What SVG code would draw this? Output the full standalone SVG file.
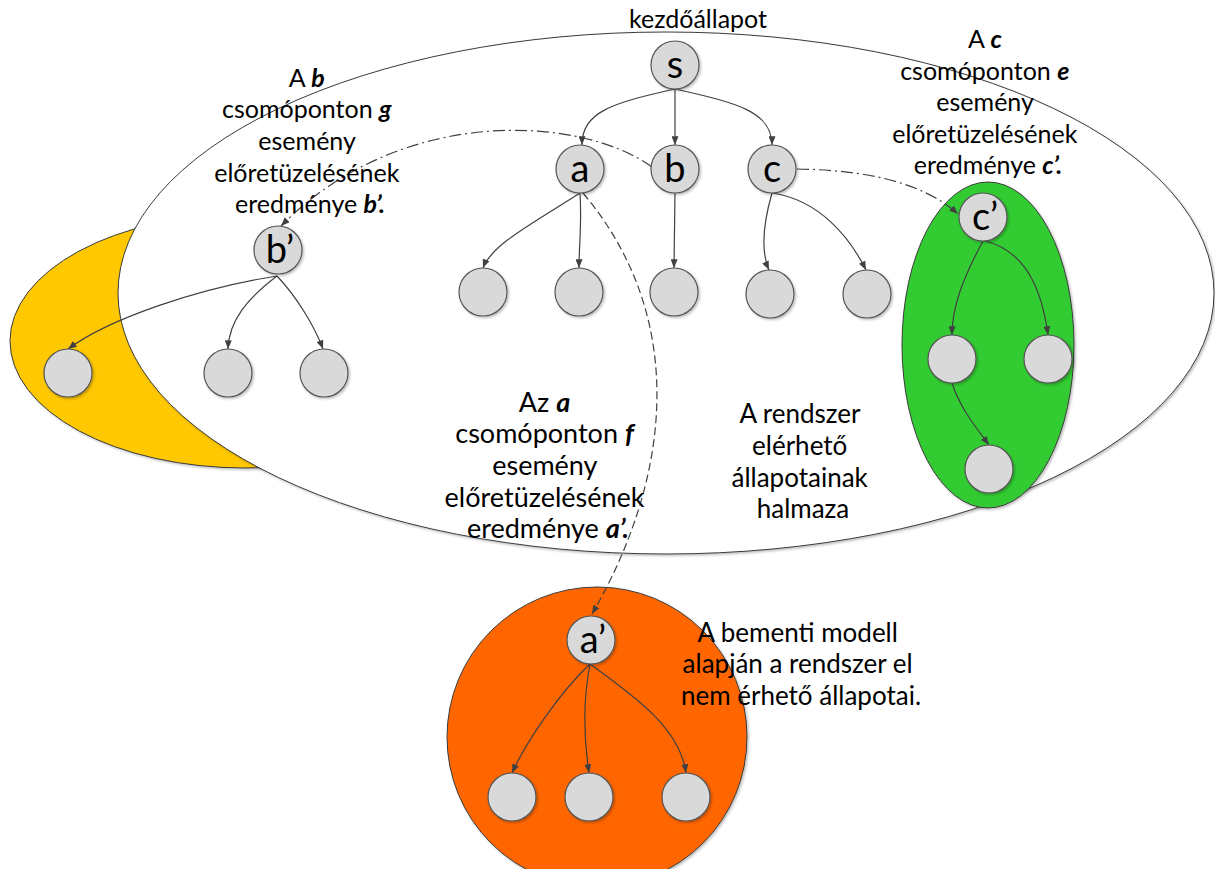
<svg xmlns="http://www.w3.org/2000/svg" width="1215" height="869" viewBox="0 0 1215 869">
  <defs>
    <filter id="shadow" x="-10%" y="-10%" width="130%" height="130%">
      <feDropShadow dx="1.5" dy="1.5" stdDeviation="0.8" flood-color="#000" flood-opacity="0.25"/>
    </filter>
    <marker id="arrow" viewBox="0 0 10 8" refX="10" refY="4" markerWidth="9" markerHeight="7" markerUnits="userSpaceOnUse" orient="auto">
      <path d="M0,0 L10,4 L0,8 Z" fill="#404040"/>
    </marker>
    <style>
      .region { stroke: #3a3a3a; stroke-width: 1; filter: url(#shadow); }
      .node circle { fill: #d9d9d9; stroke: #555; stroke-width: 1.2; filter: url(#shadow); }
      .node text { font-family: Lato, "Liberation Sans", sans-serif; font-size: 38px; fill: #000; text-anchor: middle; }
      .edge { fill: none; stroke: #404040; stroke-width: 1.2; marker-end: url(#arrow); }
      .dash { stroke-dasharray: 8 4; }
      .dashdot { stroke-dasharray: 12 4 2 4; }
      .label { font-family: Lato, "Liberation Sans", sans-serif; fill: #000; text-anchor: middle; }
      .bi { font-weight: bold; font-style: italic; }
    </style>
  </defs>

  <!-- regions -->
  <g id="regions">
    <ellipse id="unreachable-left" class="region" cx="245" cy="341" rx="235" ry="127" fill="#ffc800"/>
    <ellipse id="reachable-set" class="region" cx="666" cy="293" rx="548" ry="261" fill="#ffffff"/>
    <ellipse id="region-c" class="region" cx="988" cy="345" rx="86" ry="163" fill="#33cc33"/>
    <circle id="region-a" class="region" cx="597" cy="737" r="150" fill="#ff6600"/>
  </g>

  <!-- connectors -->
  <g id="connectors">
    <path class="edge" d="M675,89 C612,103 582,112 582,145"/>
    <path class="edge" d="M675,89 L675,145"/>
    <path class="edge" d="M675,89 C738,103 772,112 772,145"/>

    <path class="edge" d="M580,193 C535,222 492,244 483,268"/>
    <path class="edge" d="M580,193 C582,222 579,245 579,268"/>
    <path class="edge" d="M675,193 L674,268"/>
    <path class="edge" d="M772,193 C762,228 761,252 769,270"/>
    <path class="edge" d="M772,193 C820,200 850,238 866,270"/>

    <path class="edge" d="M277,276 C200,288 110,318 68,349"/>
    <path class="edge" d="M277,276 C248,298 229,320 228,349"/>
    <path class="edge" d="M277,276 C296,296 314,325 323,349"/>

    <path class="edge" d="M983,241 C962,280 952,308 952,335"/>
    <path class="edge" d="M985,241 C1030,252 1043,298 1048,335"/>
    <path class="edge" d="M952,383 C960,408 975,426 989,445"/>

    <path class="edge" d="M590,664 C560,692 526,742 512,773"/>
    <path class="edge" d="M590,664 C583,700 584,740 589,773"/>
    <path class="edge" d="M590,664 C640,700 680,730 686,773"/>

    <path class="edge dash" d="M583,193 C690,320 670,480 592,614"/>
    <path class="edge dashdot" d="M652,167 C580,115 400,105 281,226"/>
    <path class="edge dashdot" d="M797,169 C860,170 920,180 958,214"/>
  </g>

  <!-- nodes -->
  <g id="node-s" class="node"><circle cx="675" cy="65" r="24"/><text x="675" y="78">s</text></g>
  <g id="node-a" class="node"><circle cx="580" cy="169" r="24"/><text x="580" y="182">a</text></g>
  <g id="node-b" class="node"><circle cx="675" cy="169" r="24"/><text x="675" y="182">b</text></g>
  <g id="node-c" class="node"><circle cx="772" cy="169" r="24"/><text x="772" y="182">c</text></g>
  <g id="node-a1" class="node"><circle cx="483" cy="292" r="24"/></g>
  <g id="node-a2" class="node"><circle cx="579" cy="292" r="24"/></g>
  <g id="node-b1" class="node"><circle cx="674" cy="292" r="24"/></g>
  <g id="node-c1" class="node"><circle cx="770" cy="294" r="24"/></g>
  <g id="node-c2" class="node"><circle cx="867" cy="294" r="24"/></g>

  <g id="node-bp" class="node"><circle cx="278" cy="250" r="24"/><text x="280" y="263">b’</text></g>
  <g id="node-bp1" class="node"><circle cx="68" cy="373" r="24"/></g>
  <g id="node-bp2" class="node"><circle cx="228" cy="373" r="24"/></g>
  <g id="node-bp3" class="node"><circle cx="324" cy="373" r="24"/></g>

  <g id="node-cp" class="node"><circle cx="983" cy="217" r="24"/><text x="985" y="230">c’</text></g>
  <g id="node-cp1" class="node"><circle cx="952" cy="359" r="24"/></g>
  <g id="node-cp2" class="node"><circle cx="1048" cy="359" r="24"/></g>
  <g id="node-cp3" class="node"><circle cx="989" cy="469" r="24"/></g>

  <g id="node-ap" class="node"><circle cx="591" cy="640" r="24"/><text x="593" y="653">a’</text></g>
  <g id="node-ap1" class="node"><circle cx="512" cy="797" r="24"/></g>
  <g id="node-ap2" class="node"><circle cx="589" cy="797" r="24"/></g>
  <g id="node-ap3" class="node"><circle cx="686" cy="797" r="24"/></g>

  <!-- labels -->
  <g id="labels">
    <text class="label" x="698" y="28" font-size="25">kezdőállapot</text>

    <text class="label" font-size="25">
      <tspan x="310" y="87">A <tspan class="bi">b</tspan></tspan>
      <tspan x="310" y="118">csomóponton <tspan class="bi">g</tspan></tspan>
      <tspan x="310" y="150">esemény</tspan>
      <tspan x="310" y="182">előretüzelésének</tspan>
      <tspan x="310" y="213">eredménye <tspan class="bi">b’.</tspan></tspan>
    </text>

    <text class="label" font-size="25">
      <tspan x="988" y="48">A <tspan class="bi">c</tspan></tspan>
      <tspan x="988" y="80">csomóponton <tspan class="bi">e</tspan></tspan>
      <tspan x="988" y="111">esemény</tspan>
      <tspan x="988" y="143">előretüzelésének</tspan>
      <tspan x="988" y="174">eredménye <tspan class="bi">c’.</tspan></tspan>
    </text>

    <text class="label" font-size="27">
      <tspan x="548" y="412">Az <tspan class="bi">a</tspan></tspan>
      <tspan x="548" y="443">csomóponton <tspan class="bi">f</tspan></tspan>
      <tspan x="548" y="475">esemény</tspan>
      <tspan x="548" y="507">előretüzelésének</tspan>
      <tspan x="548" y="538">eredménye <tspan class="bi">a’.</tspan></tspan>
    </text>

    <text class="label" font-size="26">
      <tspan x="803" y="423">A rendszer</tspan>
      <tspan x="803" y="455">elérhető</tspan>
      <tspan x="803" y="487">állapotainak</tspan>
      <tspan x="803" y="518">halmaza</tspan>
    </text>

    <text class="label" font-size="26">
      <tspan x="801" y="642">A bementi modell</tspan>
      <tspan x="801" y="673">alapján a rendszer el</tspan>
      <tspan x="801" y="705">nem érhető állapotai.</tspan>
    </text>
  </g>
</svg>
